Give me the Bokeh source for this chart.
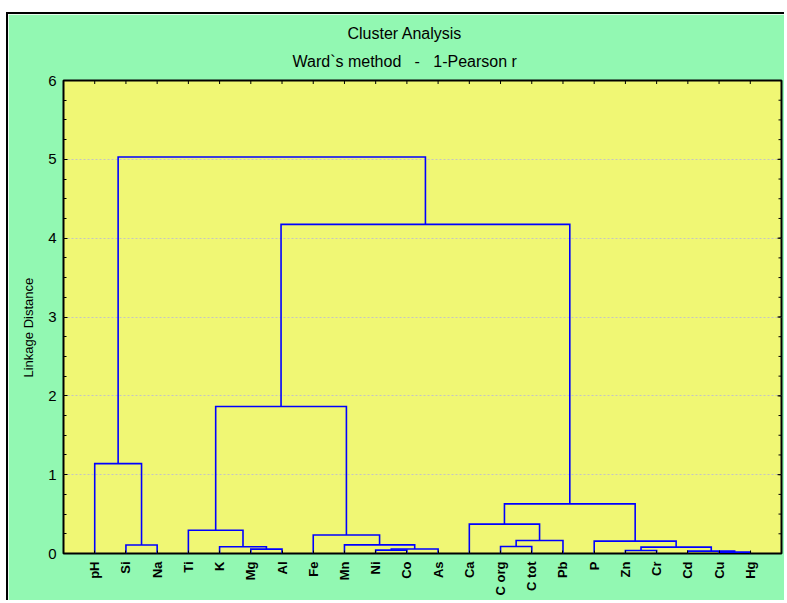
from math import pi
from bokeh.plotting import figure
from bokeh.models import FixedTicker, Range1d, ColumnDataSource, Title
from bokeh.embed import file_html
from bokeh.resources import INLINE

# ---- data ----
leaves = ["pH", "Si", "Na", "Ti", "K", "Mg", "Al", "Fe", "Mn", "Ni", "Co", "As",
          "Ca", "C org", "C tot", "Pb", "P", "Zn", "Cr", "Cd", "Cu", "Hg"]
# merges: cluster ids >= len(leaves) refer to earlier merges (22 = first merge, ...)
merge_left = [20, 19, 17, 9, 5, 25, 24, 4, 13, 1, 8, 16, 30, 7, 3, 12, 37, 0, 36, 40, 39]
merge_right = [21, 22, 18, 10, 6, 11, 23, 26, 14, 2, 27, 28, 15, 32, 29, 34, 33, 31, 35, 38, 41]
merge_height = [0.018, 0.030, 0.038, 0.043, 0.055, 0.057, 0.081, 0.085, 0.089, 0.107,
                0.110, 0.157, 0.165, 0.235, 0.295, 0.373, 0.630, 1.140, 1.865, 4.175, 5.030]
y_ticks = [0, 1, 2, 3, 4, 5, 6]
y_minor = [k / 4 for k in range(25)]

title_text = "Cluster Analysis"
subtitle_text = "Ward`s method\u00a0\u00a0\u00a0-\u00a0\u00a0\u00a01-Pearson r"
y_label = "Linkage Distance"

# ---- dendrogram geometry from merges ----
n = len(leaves)
pos = {i: i + 1 for i in range(n)}
hgt = {i: 0.0 for i in range(n)}
xs, ys = [], []
for k, (a, b, h) in enumerate(zip(merge_left, merge_right, merge_height)):
    xs.append([pos[a], pos[a], pos[b], pos[b]])
    ys.append([hgt[a], h, h, hgt[b]])
    pos[n + k] = (pos[a] + pos[b]) / 2
    hgt[n + k] = h

GREEN = "#92F8B2"
YELLOW = "#F0F774"
FONT = "Liberation Sans"
x_max = n + 1
y_max = y_ticks[-1]

p = figure(width=778, height=588, x_range=Range1d(0, x_max), y_range=Range1d(0, y_max),
           output_backend="svg", toolbar_location=None)
p.min_border_left = 55
p.min_border_right = 5
p.min_border_top = 66
p.min_border_bottom = 49
p.background_fill_color = YELLOW
p.border_fill_color = GREEN
p.outline_line_color = "black"
p.outline_line_width = 2
p.styles = {"margin-left": "6px", "margin-top": "12px",
            "border-left": "2px solid black", "border-top": "2px solid black"}

p.xgrid.visible = False
p.ygrid.ticker = FixedTicker(ticks=y_ticks)
p.ygrid.grid_line_color = "#C4C4C4"
p.ygrid.grid_line_dash = "2 2"
p.ygrid.grid_line_width = 1

src = ColumnDataSource(dict(xs=xs, ys=ys))
p.multi_line("xs", "ys", source=src, line_color="#0000FF", line_width=1.6, line_join="miter")

# ticks on the top and right edges of the frame (inward), drawn as short dashes
leaf_x = list(range(1, n + 1))
p.scatter(x=leaf_x, y=[y_max] * n, marker="dash", angle=pi / 2, size=7,
          line_color="black", line_width=1)
p.scatter(x=[x_max] * len(y_ticks), y=y_ticks, marker="dash", size=8,
          line_color="black", line_width=1)
p.scatter(x=[x_max] * len(y_minor), y=y_minor, marker="dash", size=6,
          line_color="black", line_width=1)

# bottom axis
xa = p.xaxis[0]
xa.ticker = FixedTicker(ticks=leaf_x)
xa.major_label_overrides = {i + 1: name for i, name in enumerate(leaves)}
xa.major_label_orientation = pi / 2
xa.major_label_text_font = FONT
xa.major_label_text_font_style = "bold"
xa.major_label_text_font_size = "13px"
xa.major_label_text_color = "black"
xa.major_label_standoff = 8
xa.major_tick_in = 3
xa.major_tick_out = 0
xa.major_tick_line_color = "black"
xa.minor_tick_line_color = None
xa.axis_line_color = None

# left axis
ya = p.yaxis[0]
ya.ticker = FixedTicker(ticks=y_ticks, minor_ticks=y_minor)
ya.major_label_text_font = FONT
ya.major_label_text_font_size = "15px"
ya.major_label_text_color = "black"
ya.major_label_standoff = 7
ya.major_tick_in = 4
ya.major_tick_out = 0
ya.minor_tick_in = 3
ya.minor_tick_out = 0
ya.major_tick_line_color = "black"
ya.minor_tick_line_color = "black"
ya.axis_line_color = None

p.add_layout(Title(text=y_label, align="left", offset=176, standoff=19,
                   text_font=FONT, text_font_size="13px", text_font_style="normal",
                   text_color="black"), "left")

p.add_layout(Title(text=subtitle_text, align="left", offset=229, standoff=22,
                   text_font=FONT, text_font_size="16px", text_font_style="normal",
                   text_color="black"), "above")
p.add_layout(Title(text=title_text, align="left", offset=284, standoff=-5,
                   text_font=FONT, text_font_size="16px", text_font_style="normal",
                   text_color="black"), "above")

open("out.html", "w").write(file_html(p, INLINE))
